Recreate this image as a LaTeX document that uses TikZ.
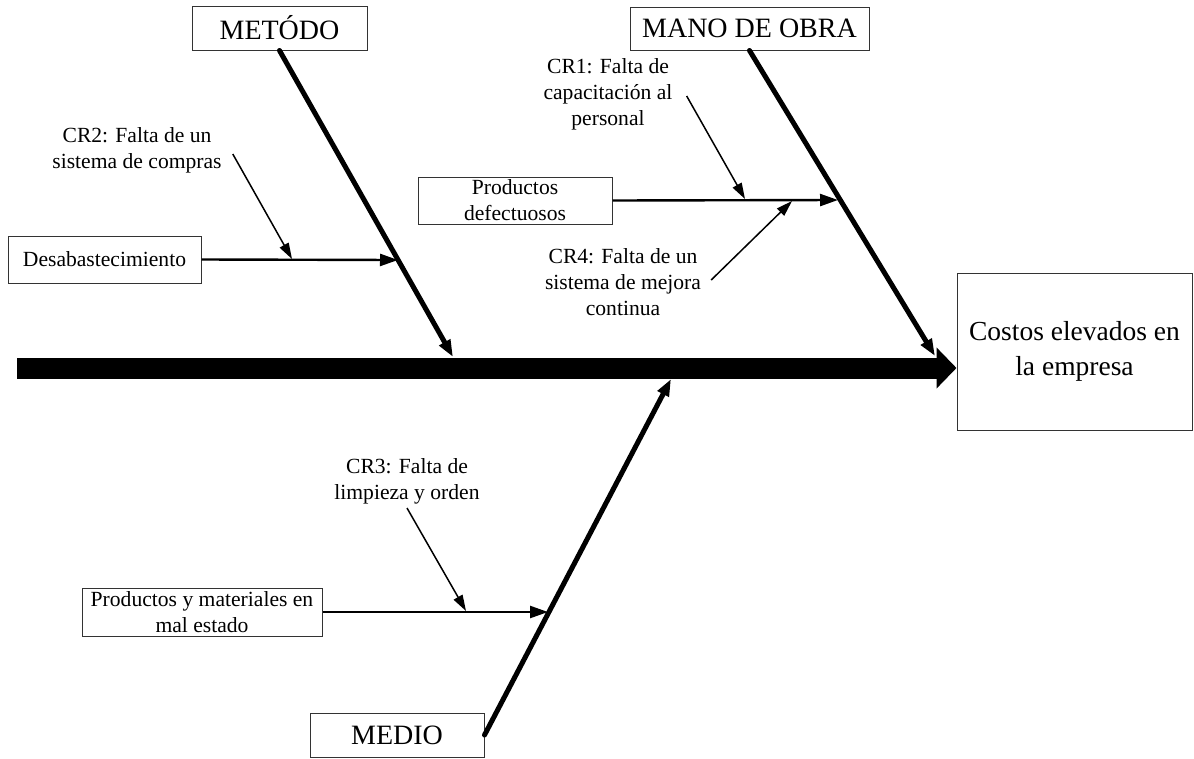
\documentclass[tikz,border=0pt]{standalone}
\usepackage{fontspec}
\setmainfont{Liberation Serif}
\usetikzlibrary{arrows.meta}

\begin{document}
\begin{tikzpicture}[x=1pt,y=-1pt,
  box/.style={draw=black!80,line width=1pt,inner sep=0pt,align=center},
  catbox/.style={box,font=\fontsize{28}{31}\selectfont},
  subbox/.style={box,font=\fontsize{21.6}{26}\selectfont},
  causetext/.style={inner sep=0pt,align=center,font=\fontsize{21.6}{26}\selectfont},
  spine/.style={line width=21pt,-{Triangle[length=20pt,width=40pt]}},
  bone/.style={line width=5pt,line cap=round,-{Triangle[length=17pt,width=12pt]}},
  branch/.style={line width=2.4pt,-{Triangle[length=18pt,width=12pt]}},
  cause/.style={line width=1.5pt,-{Triangle[length=16pt,width=10pt]}}]
\useasboundingbox (0,0) rectangle (1194,758);

% effect
\node[box,minimum width=235pt,minimum height=157pt,font=\fontsize{27.5}{35}\selectfont]
  (effect) at (1074.5,351.5) {Costos elevados en\\la empresa};

% spine
\coordinate (s0) at (17,368);
\draw[spine] (s0) -- (s0 -| effect.west);

% categories
\node[catbox,minimum width=175pt,minimum height=44pt] (metodo) at (279.5,28) {METÓDO};
\node[catbox,minimum width=239pt,minimum height=43pt] (mano) at (749.5,28.5) {MANO DE OBRA};
\node[catbox,minimum width=174pt,minimum height=44pt] (medio) at (397,735) {MEDIO};

% bone ends on the spine
\coordinate (b1) at (453,357);
\coordinate (b2) at (935,356);
\coordinate (b3) at (671,379);
\draw[bone] (metodo.south) -- (b1);
\draw[bone] (mano.south) -- (b2);
\draw[bone] (medio.east) -- (b3);

% branches
\node[subbox,minimum width=193pt,minimum height=47pt] (desab) at (104.5,259.5) {Desabastecimiento};
\node[subbox,minimum width=194pt,minimum height=47pt] (defect) at (515,200.5) {Productos\\defectuosos};
\node[subbox,minimum width=240pt,minimum height=48pt] (mater) at (202,612) {Productos y materiales en\\mal estado};

\coordinate (r1) at (398,260);
\coordinate (r2) at (838,200);
\coordinate (r3) at (548,612);
\draw[branch] (desab.east) -- (r1);
\draw[branch] (defect.east) -- (r2);
\draw[branch] (mater.east) -- (r3);

% root causes
\node[causetext] (cr2) at (137,150) {CR2: Falta de un\\sistema de compras};
\node[causetext] (cr1) at (608,94) {CR1: Falta de\\capacitación al\\personal};
\node[causetext] (cr4) at (623,282) {CR4: Falta de un\\sistema de mejora\\continua};
\node[causetext] (cr3) at (407,481) {CR3: Falta de\\limpieza y orden};

\coordinate (c2) at (292,259);
\coordinate (c1) at (745,199);
\coordinate (c4) at (792,201);
\coordinate (c3) at (466,611);
\draw[cause] ([shift={(11,4)}]cr2.east) -- (c2);
\draw[cause] ([shift={(14,2)}]cr1.east) -- (c1);
\draw[cause] ([shift={(10,-2)}]cr4.east) -- (c4);
\draw[cause] ([shift={(0,4)}]cr3.south) -- (c3);
\end{tikzpicture}
\end{document}
